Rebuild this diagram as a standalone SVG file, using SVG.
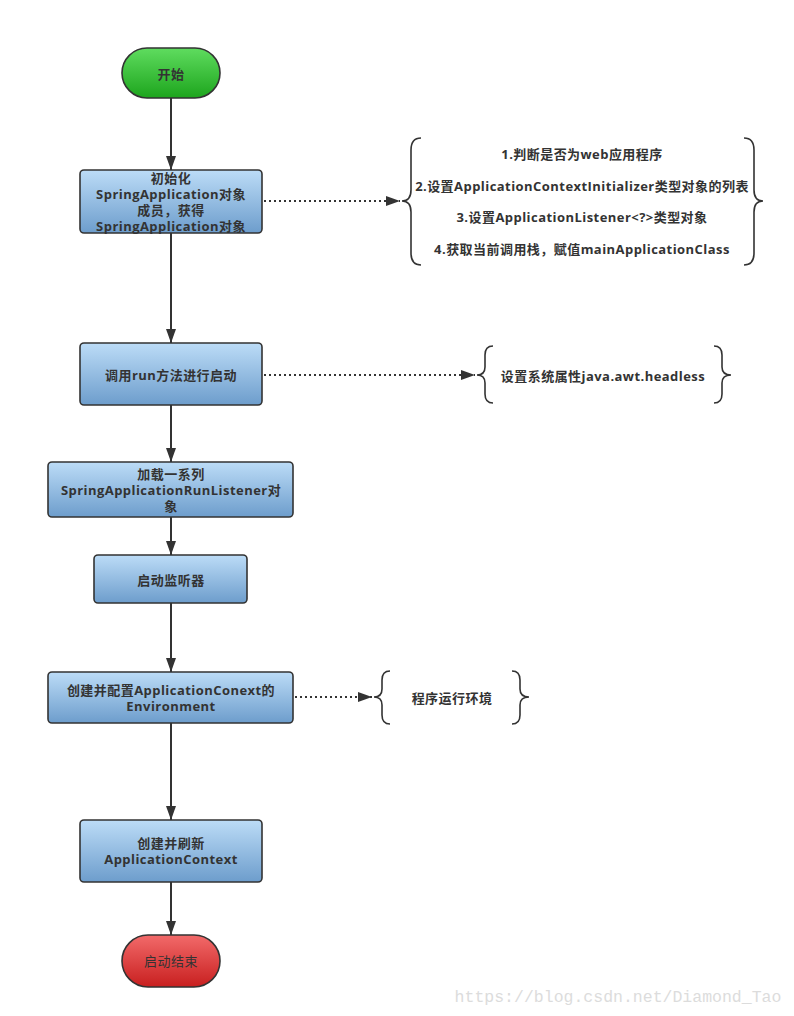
<svg xmlns="http://www.w3.org/2000/svg" width="794" height="1016" viewBox="0 0 794 1016">
<defs>
<linearGradient id="gBlue" x1="0" y1="0" x2="0" y2="1">
<stop offset="0" stop-color="#bcdcf7"/>
<stop offset="1" stop-color="#6d9dcc"/>
</linearGradient>
<linearGradient id="gGreen" x1="0" y1="0" x2="0" y2="1">
<stop offset="0" stop-color="#5fdc5f"/>
<stop offset="1" stop-color="#1da51d"/>
</linearGradient>
<linearGradient id="gRed" x1="0" y1="0" x2="0" y2="1">
<stop offset="0" stop-color="#f26a6a"/>
<stop offset="1" stop-color="#c81f1f"/>
</linearGradient>
<marker id="arrB" viewBox="0 0 14 10" refX="14" refY="5" markerWidth="14" markerHeight="10" markerUnits="userSpaceOnUse" orient="auto">
<path d="M0,0 L14,5 L0,10 z" fill="#333"/>
</marker>
</defs>
<style>
.box{fill:url(#gBlue);stroke:#333;stroke-width:1.6}
.t{font-family:"Open Sans","Noto Sans CJK SC",sans-serif;font-weight:bold;font-size:13px;letter-spacing:0.45px;fill:#333;text-anchor:middle;dominant-baseline:central}
.ln{stroke:#333;stroke-width:2;fill:none}
.dot{stroke:#333;stroke-width:2;fill:none;stroke-dasharray:2 3}
.brace{stroke:#333;stroke-width:1.6;fill:none}
</style>
<rect width="794" height="1016" fill="#fff"/>
<g id="connectors">
<line class="ln" x1="171" y1="98" x2="171" y2="170" marker-end="url(#arrB)"/>
<line class="ln" x1="171" y1="233" x2="171" y2="343" marker-end="url(#arrB)"/>
<line class="ln" x1="171" y1="405" x2="171" y2="462" marker-end="url(#arrB)"/>
<line class="ln" x1="171" y1="517" x2="171" y2="555" marker-end="url(#arrB)"/>
<line class="ln" x1="171" y1="603" x2="171" y2="672" marker-end="url(#arrB)"/>
<line class="ln" x1="171" y1="723" x2="171" y2="820" marker-end="url(#arrB)"/>
<line class="ln" x1="171" y1="882" x2="171" y2="935" marker-end="url(#arrB)"/>
<line class="dot" x1="264" y1="201" x2="400" y2="201" marker-end="url(#arrB)"/>
<line class="dot" x1="264" y1="375" x2="475" y2="375" marker-end="url(#arrB)"/>
<line class="dot" x1="295" y1="697" x2="372" y2="697" marker-end="url(#arrB)"/>
</g>
<g id="start">
<rect x="122" y="48" width="98" height="50" rx="25" fill="url(#gGreen)" stroke="#333" stroke-width="1.6"/>
<text class="t" x="171" y="74">开始</text>
</g>
<g id="n1">
<rect class="box" x="80" y="170" width="182" height="63" rx="4"/>
<text class="t" x="171" y="178">初始化</text>
<text class="t" x="171" y="194">SpringApplication对象</text>
<text class="t" x="171" y="210">成员，获得</text>
<text class="t" x="171" y="226">SpringApplication对象</text>
</g>
<g id="b1">
<path class="brace" d="M421,138 Q411,138 411,150 L411,190 Q411,201 402,201 Q411,201 411,212 L411,253 Q411,265 421,265"/>
<path class="brace" d="M744,138 Q754,138 754,150 L754,190 Q754,201 763,201 Q754,201 754,212 L754,253 Q754,265 744,265"/>
<text class="t" x="582" y="154">1.判断是否为web应用程序</text>
<text class="t" x="582" y="186">2.设置ApplicationContextInitializer类型对象的列表</text>
<text class="t" x="582" y="217">3.设置ApplicationListener&lt;?&gt;类型对象</text>
<text class="t" x="582" y="249">4.获取当前调用栈，赋值mainApplicationClass</text>
</g>
<g id="n2">
<rect class="box" x="80" y="343" width="182" height="62" rx="4"/>
<text class="t" x="171" y="375">调用run方法进行启动</text>
</g>
<g id="b2">
<path class="brace" d="M493,346 Q485,346 485,355 L485,367 Q485,375 477,375 Q485,375 485,383 L485,394 Q485,403 493,403"/>
<path class="brace" d="M714,346 Q722,346 722,355 L722,367 Q722,375 731,375 Q722,375 722,383 L722,394 Q722,403 714,403"/>
<text class="t" x="603" y="376">设置系统属性java.awt.headless</text>
</g>
<g id="n3">
<rect class="box" x="48" y="462" width="245" height="55" rx="4"/>
<text class="t" x="171" y="474">加载一系列</text>
<text class="t" x="171" y="490">SpringApplicationRunListener对</text>
<text class="t" x="171" y="506">象</text>
</g>
<g id="n4">
<rect class="box" x="94" y="555" width="153" height="48" rx="4"/>
<text class="t" x="171" y="580">启动监听器</text>
</g>
<g id="n5">
<rect class="box" x="48" y="672" width="245" height="51" rx="4"/>
<text class="t" x="171" y="690">创建并配置ApplicationConext的</text>
<text class="t" x="171" y="706">Environment</text>
</g>
<g id="b3">
<path class="brace" d="M390,671 Q382,671 382,680 L382,689 Q382,697 374,697 Q382,697 382,705 L382,715 Q382,724 390,724"/>
<path class="brace" d="M512,671 Q520,671 520,680 L520,689 Q520,697 529,697 Q520,697 520,705 L520,715 Q520,724 512,724"/>
<text class="t" x="452" y="698">程序运行环境</text>
</g>
<g id="n6">
<rect class="box" x="80" y="820" width="182" height="62" rx="4"/>
<text class="t" x="171" y="843">创建并刷新</text>
<text class="t" x="171" y="859">ApplicationContext</text>
</g>
<g id="end">
<rect x="122" y="935" width="98" height="52" rx="26" fill="url(#gRed)" stroke="#333" stroke-width="1.6"/>
<text class="t" x="171" y="961" style="font-weight:normal">启动结束</text>
</g>
<text x="618" y="997" style="font-family:'Liberation Mono',monospace;font-size:16.5px;fill:#dcdcdc;text-anchor:middle;dominant-baseline:central">https://blog.csdn.net/Diamond_Tao</text>
</svg>
